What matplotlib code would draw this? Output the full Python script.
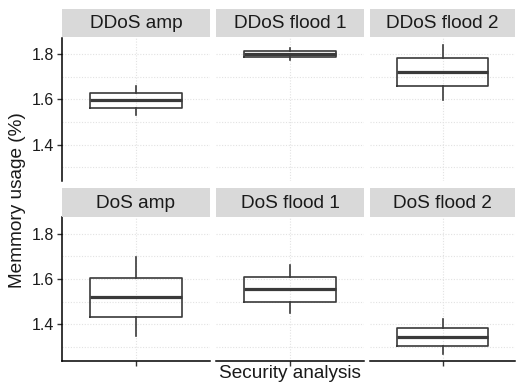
import matplotlib
matplotlib.use("Agg")
import matplotlib.pyplot as plt

plt.rcParams['font.family'] = ['Liberation Sans', 'DejaVu Sans']

panels = ["DDoS amp", "DDoS flood 1", "DDoS flood 2",
          "DoS amp", "DoS flood 1", "DoS flood 2"]
whisker_low = [1.532, 1.774, 1.598, 1.347, 1.448, 1.267]
q1 = [1.564, 1.788, 1.659, 1.432, 1.499, 1.305]
median = [1.598, 1.801, 1.721, 1.519, 1.556, 1.345]
q3 = [1.630, 1.817, 1.784, 1.606, 1.609, 1.385]
whisker_high = [1.662, 1.827, 1.844, 1.695, 1.662, 1.424]
y_ticks = [1.4, 1.6, 1.8]
y_minor = [1.3, 1.5, 1.7]

W, H = 516, 387
fig = plt.figure(figsize=(W / 100, H / 100), dpi=100)

cols = [(62, 210), (216, 364), (370, 515)]
rows = [((9, 37), (38, 181)), ((188, 217), (217, 361))]

all_vals = whisker_low + whisker_high
lo, hi = min(all_vals), max(all_vals)
pad = (hi - lo) * 0.05
ylim = (lo - pad, hi + pad)

text_col = '#1a1a1a'
line_col = '#3a3a3a'
grid_col = '#e2e2e2'
for i, name in enumerate(panels):
    r, c = divmod(i, 3)
    (sy0, sy1), (py0, py1) = rows[r]
    x0, x1 = cols[c]
    ax = fig.add_axes([x0 / W, 1 - py1 / H, (x1 - x0) / W, (py1 - py0) / H])
    sax = fig.add_axes([x0 / W, 1 - sy1 / H, (x1 - x0) / W, (sy1 - sy0) / H])
    sax.set_facecolor('#d9d9d9')
    sax.set_xticks([]); sax.set_yticks([])
    for s in sax.spines.values():
        s.set_visible(False)
    sax.text(0.5, 0.47, name, ha='center', va='center', fontsize=13.7,
             color=text_col, transform=sax.transAxes)

    stats = [dict(whislo=whisker_low[i], q1=q1[i], med=median[i],
                  q3=q3[i], whishi=whisker_high[i], fliers=[])]
    ax.bxp(stats, positions=[1], widths=0.75, showcaps=False,
           boxprops=dict(color=line_col, lw=1.2),
           whiskerprops=dict(color=line_col, lw=1.2),
           medianprops=dict(color=line_col, lw=2.3),
           zorder=3)
    ax.set_xlim(0.4, 1.6)
    ax.set_ylim(*ylim)
    for y in y_ticks + y_minor:
        ax.axhline(y, color=grid_col, lw=0.8, ls=(0, (1, 1.5)), zorder=0)
    ax.axvline(1, color=grid_col, lw=0.8, ls=(0, (1, 1.5)), zorder=0)

    for s in ax.spines.values():
        s.set_visible(False)
    ax.set_yticks(y_ticks)
    ax.set_xticks([1])
    ax.set_xticklabels([''])
    if c == 0:
        ax.spines['left'].set_visible(True)
        ax.spines['left'].set_linewidth(1.1)
        ax.set_yticklabels([f"{v:.1f}" for v in y_ticks])
        ax.tick_params(axis='y', length=3.5, width=1.0, color='#333333',
                       labelsize=11.5, labelcolor=text_col, pad=2)
    else:
        ax.tick_params(axis='y', length=0, labelleft=False)
    if r == 1:
        ax.spines['bottom'].set_visible(True)
        ax.spines['bottom'].set_linewidth(1.1)
        ax.tick_params(axis='x', length=3.5, width=1.0, color='#333333')
    else:
        ax.tick_params(axis='x', length=0)

fig.text(290 / W, 1 - 374 / H, "Security analysis", ha='center', va='center',
         fontsize=13.7, color=text_col)
fig.text(18 / W, 1 - 200 / H, "Memmory usage (%)", ha='center', va='center',
         rotation=90, fontsize=13.7, color=text_col)

fig.savefig("out.png", dpi=100)
